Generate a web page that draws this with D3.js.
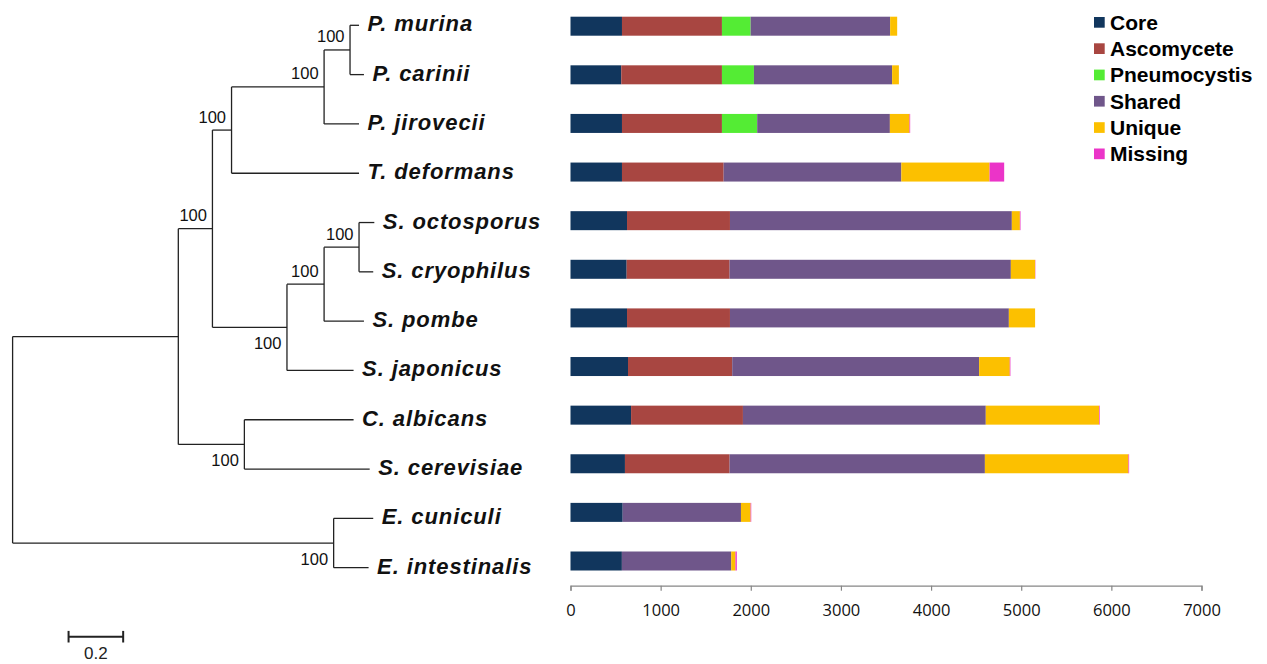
<!DOCTYPE html>
<html>
<head>
<meta charset="utf-8">
<script src="https://cdn.jsdelivr.net/npm/d3@7/dist/d3.min.js"></script>
<style>
  html, body { margin: 0; padding: 0; background: #fff; }
  svg { display: block; }
</style>
</head>
<body>
<svg id="chart" width="1267" height="664"></svg>
<script>
// Species, top to bottom
const species = [
  "P. murina", "P. carinii", "P. jirovecii", "T. deformans",
  "S. octosporus", "S. cryophilus", "S. pombe", "S. japonicus",
  "C. albicans", "S. cerevisiae", "E. cuniculi", "E. intestinalis"
];

// Gene counts per category (stacked left to right)
const coreCounts         = [571, 563, 571, 571, 627, 623, 627, 638, 672, 604, 579, 570];
const ascomyceteCounts   = [1109, 1117, 1109, 1128, 1142, 1142, 1142, 1156, 1241, 1161, 0, 0];
const pneumocystisCounts = [318, 355, 391, 0, 0, 0, 0, 0, 0, 0, 0, 0];
const sharedCounts       = [1548, 1533, 1472, 1971, 3127, 3120, 3094, 2739, 2694, 2832, 1312, 1213];
const uniqueCounts       = [78, 75, 218, 979, 89, 269, 291, 340, 1257, 1593, 107, 47];
const missingCounts      = [0, 0, 7, 162, 7, 3, 0, 7, 7, 7, 7, 15];

const seriesNames  = ["Core", "Ascomycete", "Pneumocystis", "Shared", "Unique", "Missing"];
const seriesColors = ["#11365D", "#A84641", "#54EC34", "#6F568A", "#FCC000", "#EB34C8"];
const axisTicks    = [0, 1000, 2000, 3000, 4000, 5000, 6000, 7000];

// Phylogeny: node, parent, branch length, bootstrap support
const nodeIds = ["root", "asco", "micro", "taphSchizo", "sacch", "taph", "schizo",
  "pneumo", "pmc", "ocp", "oc",
  ...species];
const nodeParents = ["", "root", "root", "asco", "asco", "taphSchizo", "taphSchizo",
  "taph", "pneumo", "schizo", "ocp",
  "pmc", "pmc", "pneumo", "taph",
  "oc", "oc", "ocp", "schizo",
  "sacch", "sacch", "micro", "micro"];
const branchLengths = [0, 0.607, 1.176, 0.125, 0.242, 0.070, 0.273,
  0.339, 0.095, 0.136, 0.128,
  0.033, 0.051, 0.128, 0.467,
  0.056, 0.052, 0.146, 0.244,
  0.400, 0.459, 0.145, 0.128];
const supports = [null, null, 100, 100, 100, 100, 100,
  100, 100, 100, 100,
  null, null, null, null, null, null, null, null, null, null, null, null];
const scaleBarLength = 0.2;

const svg = d3.select("#chart");
const font = "'Liberation Sans', Arial, sans-serif";

// ---------- Stacked bars ----------
const rows = species.map((s, i) => ({
  name: s,
  Core: coreCounts[i], Ascomycete: ascomyceteCounts[i], Pneumocystis: pneumocystisCounts[i],
  Shared: sharedCounts[i], Unique: uniqueCounts[i], Missing: missingCounts[i]
}));
const stacked = d3.stack().keys(seriesNames)(rows);

const xBar = d3.scaleLinear().domain([0, 7000]).range([570.5, 1201.5]);
const yBar = d3.scalePoint().domain(species).range([26.2, 561]);
const barH = 19;
const color = d3.scaleOrdinal().domain(seriesNames).range(seriesColors);

const barG = svg.append("g");
barG.selectAll("g.series").data(stacked).join("g")
  .attr("class", "series")
  .attr("fill", d => color(d.key))
  .selectAll("rect").data(d => d.filter(p => p[1] > p[0])).join("rect")
  .attr("x", p => xBar(p[0]))
  .attr("width", p => xBar(p[1]) - xBar(p[0]))
  .attr("y", p => yBar(p.data.name) - barH / 2)
  .attr("height", barH);

// Count axis
const axisG = svg.append("g").attr("transform", "translate(0,585.7)")
  .call(d3.axisBottom(xBar).tickValues(axisTicks).tickFormat(d3.format("d")).tickSizeOuter(0).tickSize(5));
axisG.select(".domain").attr("stroke", "#868686").attr("stroke-width", 1.2);
axisG.selectAll(".tick line").attr("stroke", "#868686").attr("stroke-width", 1.2);
axisG.selectAll(".tick text")
  .attr("y", 19)
  .attr("fill", "#111")
  .style("font-family", "'Open Sans', sans-serif")
  .style("font-size", "16.5px");

// Legend
const legend = svg.append("g").attr("transform", "translate(1094,0)");
const legRow = legend.selectAll("g").data(seriesNames).join("g")
  .attr("transform", (d, i) => `translate(0,${22.3 + i * 26.3})`);
legRow.append("rect")
  .attr("x", 0).attr("y", -5.3).attr("width", 10.7).attr("height", 10.7)
  .attr("fill", d => color(d));
legRow.append("text")
  .attr("x", 16).attr("y", 7.4)
  .style("font-family", font).style("font-weight", "bold").style("font-size", "21px")
  .attr("fill", "#000")
  .text(d => d);

// ---------- Phylogenetic tree ----------
const table = nodeIds.map((id, i) => ({
  id, parent: nodeParents[i] || null, length: branchLengths[i], support: supports[i]
}));
const root = d3.stratify().id(d => d.id).parentId(d => d.parent)(table);

// sort children so leaves follow the species order
const order = new Map(species.map((s, i) => [s, i]));
root.eachAfter(n => {
  n.minOrder = n.children ? d3.min(n.children, c => c.minOrder) : order.get(n.id);
});
root.sort((a, b) => a.minOrder - b.minOrder);

// cumulative distance from root
root.eachBefore(n => { n.dist = n.parent ? n.parent.dist + n.data.length : 0; });

const xTree = d3.scaleLinear().domain([0, 1]).range([12.6, 285.6]);
const yLeaf = d3.scalePoint().domain(species).range([25.3, 567.7]);

root.eachAfter(n => {
  n.px = xTree(n.dist);
  if (n.children) {
    n.py = (n.children[0].py + n.children[n.children.length - 1].py) / 2;
  } else {
    n.py = yLeaf(n.id);
  }
});

const treeG = svg.append("g")
  .attr("fill", "none").attr("stroke", "#222").attr("stroke-width", 1.3);

// horizontal branches
treeG.selectAll("line.h").data(root.descendants().filter(n => n.parent)).join("line")
  .attr("class", "h")
  .attr("x1", n => n.parent.px).attr("x2", n => n.px)
  .attr("y1", n => n.py).attr("y2", n => n.py);

// vertical connectors
treeG.selectAll("line.v").data(root.descendants().filter(n => n.children)).join("line")
  .attr("class", "v")
  .attr("x1", n => n.px).attr("x2", n => n.px)
  .attr("y1", n => n.children[0].py).attr("y2", n => n.children[n.children.length - 1].py);

// species names
svg.append("g").selectAll("text").data(root.leaves()).join("text")
  .attr("x", n => n.px + 8.5)
  .attr("y", n => n.py + 6)
  .style("font-family", font).style("font-weight", "bold").style("font-style", "italic")
  .style("font-size", "22px").style("letter-spacing", "0.9px")
  .attr("fill", "#111")
  .text(n => n.id);

// bootstrap values: above the branch for an upper child, below for a lower child
svg.append("g").selectAll("text")
  .data(root.descendants().filter(n => n.data.support != null)).join("text")
  .attr("x", n => n.px - 5.5)
  .attr("y", n => {
    const sibs = n.parent.children;
    const lower = sibs.indexOf(n) === sibs.length - 1;
    return lower ? n.py + 21.5 : n.py - 7.5;
  })
  .attr("text-anchor", "end")
  .style("font-family", font).style("font-size", "16.5px")
  .attr("fill", "#111")
  .text(n => n.data.support);

// scale bar
const sb = svg.append("g").attr("stroke", "#222").attr("stroke-width", 2);
const sbX0 = xTree(0.205), sbX1 = xTree(0.205 + scaleBarLength), sbY = 636.7;
sb.append("line").attr("x1", sbX0).attr("x2", sbX1).attr("y1", sbY).attr("y2", sbY);
sb.append("line").attr("x1", sbX0).attr("x2", sbX0).attr("y1", sbY - 5.8).attr("y2", sbY + 5.8);
sb.append("line").attr("x1", sbX1).attr("x2", sbX1).attr("y1", sbY - 5.8).attr("y2", sbY + 5.8);
svg.append("text")
  .attr("x", (sbX0 + sbX1) / 2).attr("y", 659)
  .attr("text-anchor", "middle")
  .style("font-family", font).style("font-size", "17px")
  .attr("fill", "#222")
  .text(scaleBarLength);
</script>
</body>
</html>
